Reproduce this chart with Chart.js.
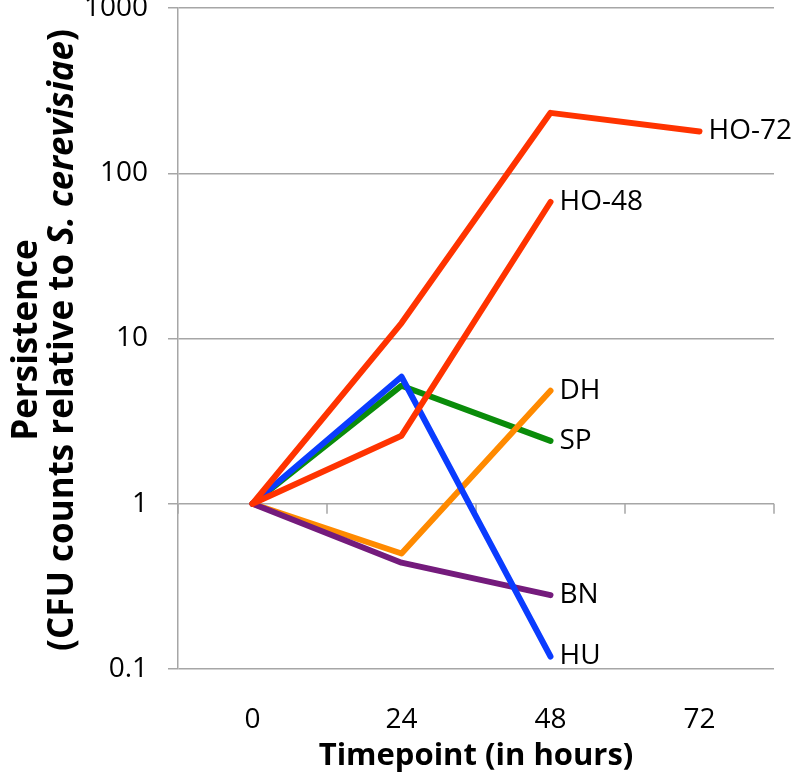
<!DOCTYPE html>
<html>
<head>
<meta charset="utf-8">
<script src="https://cdn.jsdelivr.net/npm/chart.js@4.4.1/dist/chart.umd.min.js"></script>
<style>
  html, body { margin:0; padding:0; background:#fff; }
  #wrap { width:795px; height:779px; }
</style>
</head>
<body>
<div id="wrap"><canvas id="persistChart"></canvas></div>
<script>
// timepoints (hours) and persistence values
const timepoints = ['0', '24', '48', '72'];
const seriesNames = ['HO-72', 'HO-48', 'HU', 'BN', 'SP', 'DH'];
const ho72 = [1, 12.4, 232, 179];
const ho48 = [1, 2.58, 67, null];
const hu   = [1, 5.87, 0.119, null];
const bn   = [1, 0.44, 0.28, null];
const sp   = [1, 5.18, 2.40, null];
const dh   = [1, 0.50, 4.83, null];
const yTickValues = [0.1, 1, 10, 100, 1000];
const yTickLabels = ['0.1', '1', '10', '100', '1000'];

const FONT = '"Open Sans", "DejaVu Sans", sans-serif';
const GRID = '#a6a6a6';
const colors = ['#ff3300', '#ff3300', '#0a3cff', '#741b7c', '#0a8c0a', '#ff8a00'];

// little tick marks hanging under the y=1 line, at the category boundaries
const baselineTicks = {
  id:'baselineTicks',
  beforeDatasetsDraw(chart){
    const x = chart.scales.x, y = chart.scales.y, ctx = chart.ctx;
    const y1 = y.getPixelForValue(1);
    ctx.save();
    ctx.strokeStyle = GRID;
    ctx.lineWidth = 1.5;
    for (let i = 0; i <= timepoints.length; i++){
      const px = x.getPixelForValue(i - 0.5);
      ctx.beginPath();
      ctx.moveTo(px, y1);
      ctx.lineTo(px, y1 + 10);
      ctx.stroke();
    }
    ctx.restore();
  }
};

// series names at the end of each line
const endLabels = {
  id:'endLabels',
  afterDatasetsDraw(chart){
    const ctx = chart.ctx;
    ctx.save();
    ctx.font = '28px ' + FONT;
    ctx.fillStyle = '#000';
    ctx.textAlign = 'left';
    ctx.textBaseline = 'middle';
    chart.data.datasets.forEach((ds, i) => {
      let last = ds.data.length - 1;
      while (last >= 0 && ds.data[last] == null) last--;
      const pt = chart.getDatasetMeta(i).data[last];
      ctx.fillText(ds.label, pt.x + 9, pt.y);
    });
    ctx.restore();
  }
};

// two-line y title with italic species name
const yTitle = {
  id:'yTitle',
  afterDraw(chart){
    const ctx = chart.ctx;
    const cy = 340;
    const bold = 'bold 35px ' + FONT;
    const boldIt = 'italic bold 35px ' + FONT;
    ctx.save();
    ctx.fillStyle = '#000';
    ctx.textBaseline = 'alphabetic';
    // line 1
    ctx.save();
    ctx.translate(37, cy);
    ctx.rotate(-Math.PI / 2);
    ctx.font = bold;
    ctx.textAlign = 'center';
    ctx.fillText('Persistence', 0, 0);
    ctx.restore();
    // line 2
    const parts = [
      ['(CFU counts relative to ', bold],
      ['S. cerevisiae', boldIt],
      [')', bold]
    ];
    let total = 0;
    parts.forEach(p => { ctx.font = p[1]; total += ctx.measureText(p[0]).width; });
    ctx.translate(73, cy);
    ctx.rotate(-Math.PI / 2);
    ctx.textAlign = 'left';
    let xo = -total / 2;
    parts.forEach(p => {
      ctx.font = p[1];
      ctx.fillText(p[0], xo, 0);
      xo += ctx.measureText(p[0]).width;
    });
    ctx.restore();
  }
};

const seriesData = [ho72, ho48, hu, bn, sp, dh];
const drawOrder = [0, 1, 2, 3, 5, 4];

new Chart(document.getElementById('persistChart'), {
  type:'line',
  data:{
    labels: timepoints,
    datasets: seriesNames.map((name, i) => ({
      label: name,
      data: seriesData[i],
      borderColor: colors[i],
      backgroundColor: colors[i],
      borderWidth: 6,
      borderCapStyle: 'round',
      borderJoinStyle: 'round',
      pointRadius: 0,
      tension: 0,
      spanGaps: false,
      order: drawOrder[i]
    }))
  },
  options:{
    responsive:true,
    maintainAspectRatio:false,
    animation:false,
    layout:{ padding:{ top:8, right:21, bottom:0, left:0 } },
    plugins:{
      legend:{ display:false },
      tooltip:{ enabled:false }
    },
    scales:{
      x:{
        type:'category',
        offset:true,
        grid:{ display:false, drawTicks:false },
        border:{ display:false },
        ticks:{ padding:34, color:'#000', font:{ family:FONT, size:28 } },
        title:{
          display:true,
          text:'Timepoint (in hours)',
          color:'#000',
          font:{ family:FONT, size:31, weight:'bold' },
          padding:{ top:0, bottom:4 }
        },
        afterFit:(s)=>{ s.height = 110; }
      },
      y:{
        type:'logarithmic',
        min:0.1,
        max:1000,
        afterBuildTicks:(s)=>{ s.ticks = yTickValues.map(v => ({ value:v })); },
        grid:{ color:GRID, lineWidth:1.5, tickLength:10 },
        border:{ display:true, color:GRID, width:1.5 },
        ticks:{
          padding:20,
          color:'#000',
          font:{ family:FONT, size:28 },
          callback:(v)=>{
            const k = yTickValues.indexOf(v);
            return k >= 0 ? yTickLabels[k] : '';
          }
        },
        afterFit:(s)=>{ s.width = 178; s.paddingTop = 0; s.paddingBottom = 0; }
      }
    }
  },
  plugins:[baselineTicks, endLabels, yTitle]
});
</script>
</body>
</html>
